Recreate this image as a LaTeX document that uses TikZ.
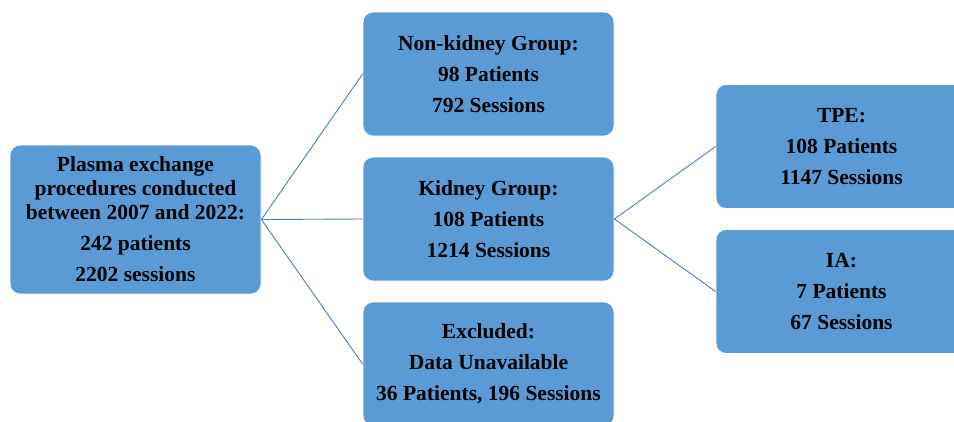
\documentclass[tikz,border=0pt]{standalone}
\usepackage{fontspec}
\setmainfont{Liberation Serif}
\usepackage{tikz}

\definecolor{boxblue}{HTML}{5B9BD5}
\definecolor{linkblue}{HTML}{4A7EBB}

\begin{document}
\begin{tikzpicture}[x=1pt, y=-1pt,
  group/.style={draw=white, line width=0.8pt, fill=boxblue, rounded corners=10pt,
    minimum width=251pt, minimum height=124pt, inner sep=0pt, align=center,
    font=\fontsize{21.5}{24}\selectfont\bfseries, text=black},
  link/.style={draw=linkblue, line width=0.9pt}]
  \useasboundingbox (0,0) rectangle (954,421);
  \clip (0,0) rectangle (954,421);
  % boxes
  \node[group, minimum height=149pt] (total) at (135.5,219.5)
    {Plasma exchange\\procedures conducted\\between 2007 and 2022:\\[7pt]242 patients\\[7pt]2202 sessions};
  \node[group] (nonkidney) at (488.5,74) {Non-kidney Group:\\[7pt]98 Patients\\[7pt]792 Sessions};
  \node[group] (kidney) at (488.5,219) {Kidney Group:\\[7pt]108 Patients\\[7pt]1214 Sessions};
  \node[group] (excluded) at (488.5,364) {Excluded:\\[7pt]Data Unavailable\\[7pt]36 Patients, 196 Sessions};
  \node[group] (tpe) at (841.5,146.5) {TPE:\\[7pt]108 Patients\\[7pt]1147 Sessions};
  \node[group] (ia) at (841.5,291.5) {IA:\\[7pt]7 Patients\\[7pt]67 Sessions};
  % links
  \draw[link] (total.east) -- (nonkidney.west);
  \draw[link] (total.east) -- (kidney.west);
  \draw[link] (total.east) -- (excluded.west);
  \draw[link] (kidney.east) -- (tpe.west);
  \draw[link] (kidney.east) -- (ia.west);
\end{tikzpicture}
\end{document}
